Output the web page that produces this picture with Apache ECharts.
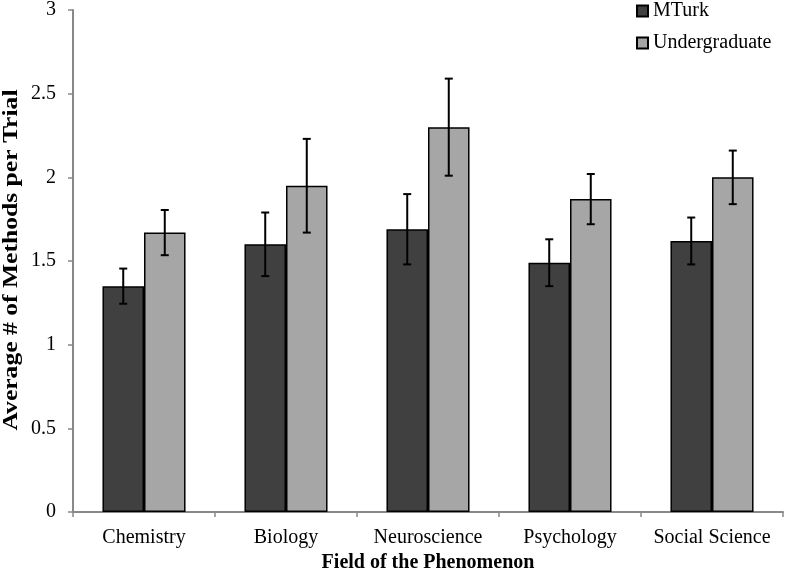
<!DOCTYPE html>
<html>
<head>
<meta charset="utf-8">
<script src="https://cdn.jsdelivr.net/npm/echarts@6/dist/echarts.min.js"></script>
<style>html,body{margin:0;padding:0;background:#fff}#c{width:785px;height:578px}</style>
</head>
<body>
<div id="c"></div>
<script>
var categories = ['Chemistry', 'Biology', 'Neuroscience', 'Psychology', 'Social Science'];
var mturk = [1.35, 1.60, 1.69, 1.49, 1.62];
var mturkErr = [0.105, 0.19, 0.21, 0.14, 0.14];
var undergrad = [1.67, 1.95, 2.30, 1.87, 2.00];
var undergradErr = [0.135, 0.28, 0.29, 0.15, 0.16];
var seriesNames = ['MTurk', 'Undergraduate'];
var xTitle = 'Field of the Phenomenon';
var yTitle = 'Average # of Methods per Trial';

var FONT = '"Liberation Serif", "Times New Roman", serif';
var GAP = 0.415;

function errSeries(vals, errs, idx) {
  var data = vals.map(function (v, i) { return [i, v - errs[i], v + errs[i]]; });
  return {
    type: 'custom',
    silent: true,
    z: 10,
    data: data,
    encode: { x: 0, y: [1, 2] },
    renderItem: function (params, api) {
      var band = api.size([1, 0])[0];
      var bw = band * (1 - GAP) / 2;
      var off = idx === 0 ? -bw / 2 : bw / 2;
      var lo = api.coord([api.value(0), api.value(1)]);
      var hi = api.coord([api.value(0), api.value(2)]);
      var x = lo[0] + off;
      var cap = 4;
      var st = { stroke: '#000', lineWidth: 2 };
      return {
        type: 'group',
        children: [
          { type: 'line', shape: { x1: x, y1: lo[1], x2: x, y2: hi[1] }, style: st },
          { type: 'line', shape: { x1: x - cap, y1: lo[1], x2: x + cap, y2: lo[1] }, style: st },
          { type: 'line', shape: { x1: x - cap, y1: hi[1], x2: x + cap, y2: hi[1] }, style: st }
        ]
      };
    }
  };
}

var chart = echarts.init(document.getElementById('c'), null, { renderer: 'canvas' });
chart.setOption({
  animation: false,
  backgroundColor: '#fff',
  textStyle: { fontFamily: FONT, color: '#000' },
  grid: { left: 73, right: 2, top: 7, bottom: 59.5, containLabel: false },
  legend: {
    orient: 'vertical',
    left: 636,
    top: 1,
    padding: 0,
    itemWidth: 11,
    itemHeight: 11,
    itemGap: 12,
    icon: 'rect',
    data: seriesNames,
    textStyle: { fontFamily: FONT, fontSize: 20, color: '#000' }
  },
  graphic: [{
    type: 'text',
    x: 12,
    y: 260,
    rotation: Math.PI / 2,
    scaleX: 1.28,
    scaleY: 1,
    style: {
      text: yTitle,
      font: 'bold 20px "Liberation Serif", "Times New Roman", serif',
      fill: '#000',
      align: 'center',
      verticalAlign: 'middle'
    }
  }],
  xAxis: {
    type: 'category',
    data: categories,
    name: xTitle,
    nameLocation: 'middle',
    nameGap: 40,
    nameTextStyle: { fontFamily: FONT, fontSize: 20, fontWeight: 'bold', color: '#000' },
    axisLine: { lineStyle: { color: '#898989', width: 2 } },
    axisTick: { show: true, length: 5, lineStyle: { color: '#898989', width: 1.5 } },
    axisLabel: { interval: 0, fontFamily: FONT, fontSize: 20, color: '#000', margin: 16 }
  },
  yAxis: {
    type: 'value',
    min: 0, max: 3, interval: 0.5,
    axisLine: { show: true, lineStyle: { color: '#898989', width: 2 } },
    axisTick: { show: true, length: 5, lineStyle: { color: '#898989', width: 1.5 } },
    axisLabel: { fontFamily: FONT, fontSize: 20, color: '#000', margin: 17 },
    splitLine: { show: false }
  },
  series: [
    {
      name: seriesNames[0], type: 'bar', data: mturk,
      barGap: '0%', barCategoryGap: (GAP * 100) + '%',
      itemStyle: { color: '#404040', borderColor: '#000', borderWidth: 1.5 }
    },
    {
      name: seriesNames[1], type: 'bar', data: undergrad,
      barGap: '0%', barCategoryGap: (GAP * 100) + '%',
      itemStyle: { color: '#a6a6a6', borderColor: '#000', borderWidth: 1.5 }
    },
    errSeries(mturk, mturkErr, 0),
    errSeries(undergrad, undergradErr, 1)
  ]
});
</script>
</body>
</html>
